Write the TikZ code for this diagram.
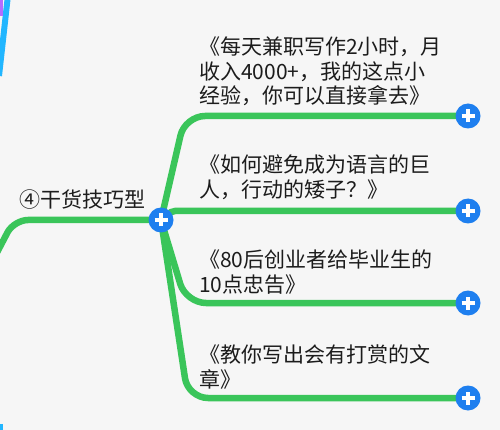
\documentclass[tikz,border=0pt]{standalone}
\usepackage{fontspec}
\newfontfamily\cjk{Noto Sans CJK SC}
\usetikzlibrary{calc}
\pgfdeclarelayer{edges}
\pgfdeclarelayer{background}
\pgfsetlayers{background,edges,main}
\definecolor{bggray}{HTML}{F6F6F6}
\definecolor{mapgreen}{HTML}{3AC55A}
\definecolor{btnblue}{HTML}{1E7FEF}
\definecolor{edgecyan}{HTML}{22B6FF}
\definecolor{edgeviolet}{HTML}{B46CFF}
\definecolor{inkgray}{HTML}{1C1C1C}
\tikzset{
  branch/.style ={draw=mapgreen,line width=6.5pt,rounded corners=20pt,line cap=round},
  plusbtn/.style={circle,fill=btnblue,minimum size=25pt,inner sep=0pt,
    path picture={\draw[white,line width=3.4pt]
      ($(path picture bounding box.center)+(-6.5pt,0)$) -- ($(path picture bounding box.center)+(6.5pt,0)$)
      ($(path picture bounding box.center)+(0,-6.5pt)$) -- ($(path picture bounding box.center)+(0,6.5pt)$);}},
  leaf/.style   ={anchor=north west,align=left,inner sep=0pt,text=inkgray,font=\cjk\fontsize{21}{24.5}\selectfont},
  topic/.style  ={anchor=west,inner sep=0pt,text=inkgray,font=\cjk\fontsize{21}{24.5}\selectfont},
}
\begin{document}
\begin{tikzpicture}[x=1pt,y=-1pt]
  \useasboundingbox (0,0) rectangle (500,430);
  \begin{pgfonlayer}{background}
    \fill[bggray] (0,0) rectangle (500,430);
  \end{pgfonlayer}
  \clip (0,0) rectangle (500,430);
  % neighbouring branches, cut by the frame
  \draw[edgecyan,line width=6pt] (8,-5) -- (-1,76);
  \draw[edgeviolet,line width=5pt] (0,-3) -- (0,16);
  \draw[edgecyan,line width=5pt] (0,424) -- (0,436);

  \node[topic] (topic) at (19,200) {④干货技巧型};
  \node[plusbtn] (hub) at (161,220) {};

  \node[leaf] (t1) at (199,37) {《每天兼职写作2小时，月\\收入4000+，我的这点小\\经验，你可以直接拿去》};
  \node[leaf] (t2) at (199,155) {《如何避免成为语言的巨\\人，行动的矮子？》};
  \node[leaf] (t3) at (199,250) {《80后创业者给毕业生的\\10点忠告》};
  \node[leaf] (t4) at (199,345) {《教你写出会有打赏的文\\章》};

  \foreach \n/\y in {1/116,2/211,3/303,4/398}
    \node[plusbtn] (e\n) at (468,\y) {};

  \begin{pgfonlayer}{edges}
    \draw[branch,rounded corners=14pt] (-8,262) -- (14,220) -- (hub.center);
    \draw[branch] (hub.center) -- (185,116) -- (e1.center);
    \draw[branch] (hub.center) .. controls (172,211) .. (195,211) -- (e2.center);
    \draw[branch] (hub.center) -- (186,303) -- (e3.center);
    \draw[branch] (hub.center) -- (188,398) -- (e4.center);
  \end{pgfonlayer}
\end{tikzpicture}
\end{document}
